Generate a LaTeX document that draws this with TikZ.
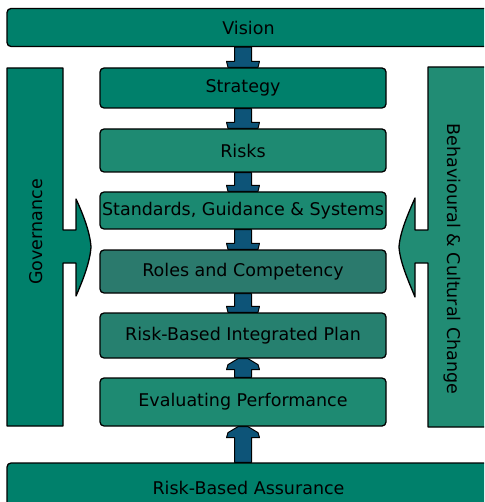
\documentclass[tikz,border=0pt]{standalone}
\usepackage{fontspec}
\setmainfont{DejaVu Sans}
\usetikzlibrary{calc,backgrounds}
\definecolor{tealA}{HTML}{00806B}
\definecolor{tealB}{HTML}{1E8A72}
\definecolor{tealC}{HTML}{2B7A6D}
\definecolor{tealD}{HTML}{218C74}
\definecolor{flowBlue}{HTML}{0D5478}

% block arrow between two stacked boxes (head at the lower box)
\newcommand{\flowdown}[2]{%
  \coordinate (ft) at (#2.north |- #1.south);
  \draw[flow] ($(ft)+(-8.5,0)$) -- ($(#2.north)+(-8.5,-6)$)
    -- ($(#2.north)+(-16.5,-6)$) -- ($(#2.north)+(-15,0)$)
    -- ($(#2.north)+(15,0)$) -- ($(#2.north)+(16.5,-6)$)
    -- ($(#2.north)+(8.5,-6)$) -- ($(ft)+(8.5,0)$) -- cycle;}
% block arrow pointing up (head at the upper box)
\newcommand{\flowup}[2]{%
  \coordinate (fb) at (#2.south |- #1.north);
  \draw[flow] ($(fb)+(-8.5,0)$) -- ($(#2.south)+(-8.5,11)$)
    -- ($(#2.south)+(-16.5,11)$) -- ($(#2.south)+(-15,6)$)
    -- ($(#2.south)+(-5,0)$) -- ($(#2.south)+(5,0)$)
    -- ($(#2.south)+(15,6)$) -- ($(#2.south)+(16.5,11)$)
    -- ($(#2.south)+(8.5,11)$) -- ($(fb)+(8.5,0)$) -- cycle;}

\begin{document}
\begin{tikzpicture}[x=1pt, y=-1pt,
  font=\fontsize{17.5}{21}\selectfont,
  stage/.style={rectangle, rounded corners=4pt, draw=black, line width=1.3pt,
    fill=tealB, minimum width=286pt, inner sep=0pt},
  band/.style={stage, minimum width=483pt},
  panel/.style={draw=black, line width=1.3pt, line join=round},
  flow/.style={fill=flowBlue, draw=black, line width=1pt, line join=round}]
\useasboundingbox (0,0) rectangle (484,502);
\clip (0,0) rectangle (484,502);
% --- top and bottom bands ---
\node[band, fill=tealA, minimum height=38pt] (vision) at (248.5,27.5) {Vision};
\node[band, fill=tealA, minimum height=49pt] (assurance) at (248.5,487.5) {Risk-Based Assurance};
% --- central stack ---
\node[stage, fill=tealA, minimum height=40pt] (strategy) at (243,88) {Strategy};
\node[stage, minimum height=43pt] (risks) at (243,150.5) {Risks};
\node[stage, fill=tealB!90!tealA, minimum height=37pt] (standards) at (243,210.5) {Standards, Guidance \& Systems};
\node[stage, fill=tealC, minimum height=43pt] (roles) at (243,271.5) {Roles and Competency};
\node[stage, fill=tealC!60!tealB, minimum height=45pt] (plan) at (243,335.5) {Risk-Based Integrated Plan};
\node[stage, minimum height=48pt] (evaluating) at (243,402) {Evaluating Performance};
\begin{scope}[on background layer]
  \flowdown{vision}{strategy}
  \flowdown{strategy}{risks}
  \flowdown{risks}{standards}
  \flowdown{standards}{roles}
  \flowdown{roles}{plan}
  \flowup{evaluating}{plan}
  \flowup{assurance}{evaluating}
\end{scope}
% --- side panels pushing in ---
\draw[panel, fill=tealA] (7,68) -- (63,68) -- (63,230) -- (76,230) -- (76,199)
  .. controls (83,214) and (90,232) .. (91,247)
  .. controls (90,262) and (83,280) .. (76,296) -- (76,263) -- (63,263)
  -- (63,426) -- (7,426) -- cycle;
\node[rotate=90] (governance) at (36,232) {Governance};
\draw[panel, fill=tealD] (492,67) -- (428,67) -- (428,230) -- (415,230) -- (415,198)
  .. controls (408,214) and (400,232) .. (399,247)
  .. controls (400,262) and (408,280) .. (415,297) -- (415,263) -- (428,263)
  -- (428,427) -- (492,427) -- cycle;
\node[rotate=-90] (culture) at (452,259) {Behavioural \& Cultural Change};
\end{tikzpicture}
\end{document}
